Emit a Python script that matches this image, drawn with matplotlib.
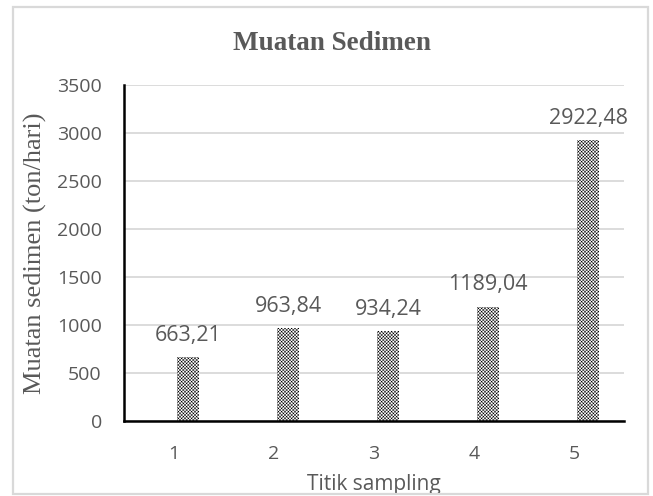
import matplotlib
matplotlib.use("Agg")
import matplotlib.pyplot as plt
from matplotlib.patches import Rectangle

# Data
titik = [1, 2, 3, 4, 5]
muatan = [663.21, 963.84, 934.24, 1189.04, 2922.48]
label_teks = ["663,21", "963,84", "934,24", "1189,04", "2922,48"]

abu = "#595959"
plt.rcParams["hatch.linewidth"] = 0.35

fig = plt.figure(figsize=(6.53, 4.96), dpi=100)
ax = fig.add_axes([124 / 653, 1 - 421 / 496, 500 / 653, 336 / 496])

# bingkai luar grafik
fig.patches.append(Rectangle((13 / 653, 2 / 496), 635 / 653, 487 / 496,
                             transform=fig.transFigure, fill=False,
                             edgecolor="#d9d9d9", linewidth=1.6))

geser = 0.14
pos = [t + geser for t in titik]
ax.bar(pos, muatan, width=0.22, color="white", edgecolor="black",
       linewidth=0, hatch="x" * 10, zorder=2)

for x, y, s in zip(pos, muatan, label_teks):
    ax.text(x, y + 120, s, ha="center", va="bottom", fontsize=15.5,
            family="Open Sans", color=abu)

ax.set_xlim(0.5, 5.5)
ax.set_ylim(0, 3500)
ax.set_yticks(range(0, 3501, 500))
ax.set_xticks(titik)
ax.grid(axis="y", color="#d9d9d9", linewidth=1.3, zorder=0)
ax.set_axisbelow(True)

for s in ["top", "right"]:
    ax.spines[s].set_visible(False)
for s in ["left", "bottom"]:
    ax.spines[s].set_linewidth(1.8)
    ax.spines[s].set_color("black")

ax.tick_params(length=0, labelcolor=abu)
ax.tick_params(axis="y", pad=16)
ax.tick_params(axis="x", pad=17)
for lbl in ax.get_xticklabels() + ax.get_yticklabels():
    lbl.set_family("Open Sans")
    lbl.set_fontsize(14)

ax.set_xlabel("Titik sampling", family="Open Sans", fontsize=15,
              color=abu, labelpad=8)
ax.set_ylabel("Muatan sedimen (ton/hari)", family="Liberation Serif",
              fontsize=19, color=abu, labelpad=7)

fig.text(332 / 653, 1 - 44 / 496, "Muatan Sedimen", ha="center", va="center",
         family="Liberation Serif", fontweight="bold", fontsize=19.5, color=abu)

fig.savefig("out.png", dpi=100)
